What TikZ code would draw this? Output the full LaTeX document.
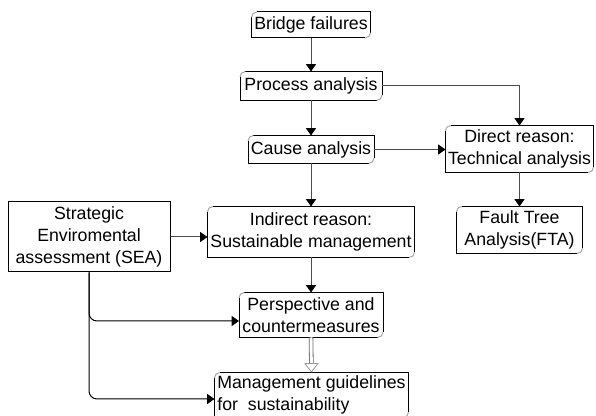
\documentclass[tikz,border=0pt]{standalone}
\usepackage{fontspec}
\setmainfont{Liberation Sans}
\usetikzlibrary{arrows.meta}

\begin{document}
\begin{tikzpicture}[x=0.75pt, y=-0.75pt, >={Triangle[width=7.5pt, length=5.5pt, color=black]}, line width=0.75pt,
    every node/.style={font=\fontsize{13.3}{16.3}\selectfont, inner sep=0pt, align=center},
    flowbox/.style={minimum width=#1},
    link/.style={->, black!70},
    edge/.style={black},
    corner/.style={black!35}]

% --- Page frame ---
\useasboundingbox (0,0) rectangle (596,416);

% --- Boxes ---
\node[flowbox=88.5pt, minimum height=18.75pt] (bridge) at (311,25) {Bridge failures};
\node[flowbox=105.75pt, minimum height=21pt] (process) at (311,86) {Process analysis};
\node[flowbox=93.75pt, minimum height=20.25pt] (cause) at (311,149.5) {Cause analysis};
\node[flowbox=110.25pt, minimum height=34.5pt] (direct) at (519.5,149) {Direct reason:\\Technical analysis};
\node[flowbox=154.5pt, minimum height=37.5pt] (indirect) at (311,232) {Indirect reason:\\Sustainable management};
\node[flowbox=93.75pt, minimum height=34.5pt] (fta) at (519.5,230) {Fault Tree\\Analysis(FTA)};
\node[flowbox=121.5pt, minimum height=52.5pt, draw, font=\fontsize{13.3}{16.5}\selectfont] (sea) at (89,237) {Strategic\\Enviromental\\assessment (SEA)};
\node[flowbox=107.25pt, minimum height=33pt] (persp) at (311,315) {Perspective and\\countermeasures};
\node[flowbox=144.75pt, minimum height=33pt, align=left] (mgmt) at (311.5,395) {Management guidelines\\for\ \ sustainability};

% outlines: sharp top-right / bottom-left, soft top-left / bottom-right
\foreach \n in {bridge, process, cause, direct, indirect, fta, persp, mgmt} {
    \draw[edge] ([yshift=-4pt]\n.north west) -- (\n.south west) -- ([xshift=-4pt]\n.south east);
    \draw[edge] ([xshift=4pt]\n.north west) -- (\n.north east) -- ([yshift=4pt]\n.south east);
    \draw[corner] ([yshift=-4pt]\n.north west) arc[start angle=180, end angle=90, radius=4pt];
    \draw[corner] ([yshift=4pt]\n.south east) arc[start angle=0, end angle=-90, radius=4pt];
}

% --- Connectors ---
\draw[link] (bridge) -- (process);
\draw[link] (process) -- (cause);
\draw[link] (process.east) -| (direct.north);
\draw[link] (cause.east) -- (direct.west |- cause.east);
\draw[link] (cause) -- (indirect);
\draw[link] (direct) -- (fta);
\draw[link] (sea.east) -- (indirect.west |- sea.east);
\draw[link] (indirect) -- (persp);

% SEA feeds the two lower boxes
\draw[link, black, rounded corners=6pt] (sea.south) |- ([yshift=-4.5pt]persp.west);
\draw[link, black, rounded corners=6pt] (sea.south) |- ([yshift=-3pt]mgmt.west);

% hollow double arrow
\draw[black!60, double=white, double distance=2.2pt, line width=0.6pt,
      -{Triangle[open, width=11pt, length=7pt, fill=white, color=black!40]}] (persp.south) -- (mgmt.north);

\end{tikzpicture}
\end{document}
